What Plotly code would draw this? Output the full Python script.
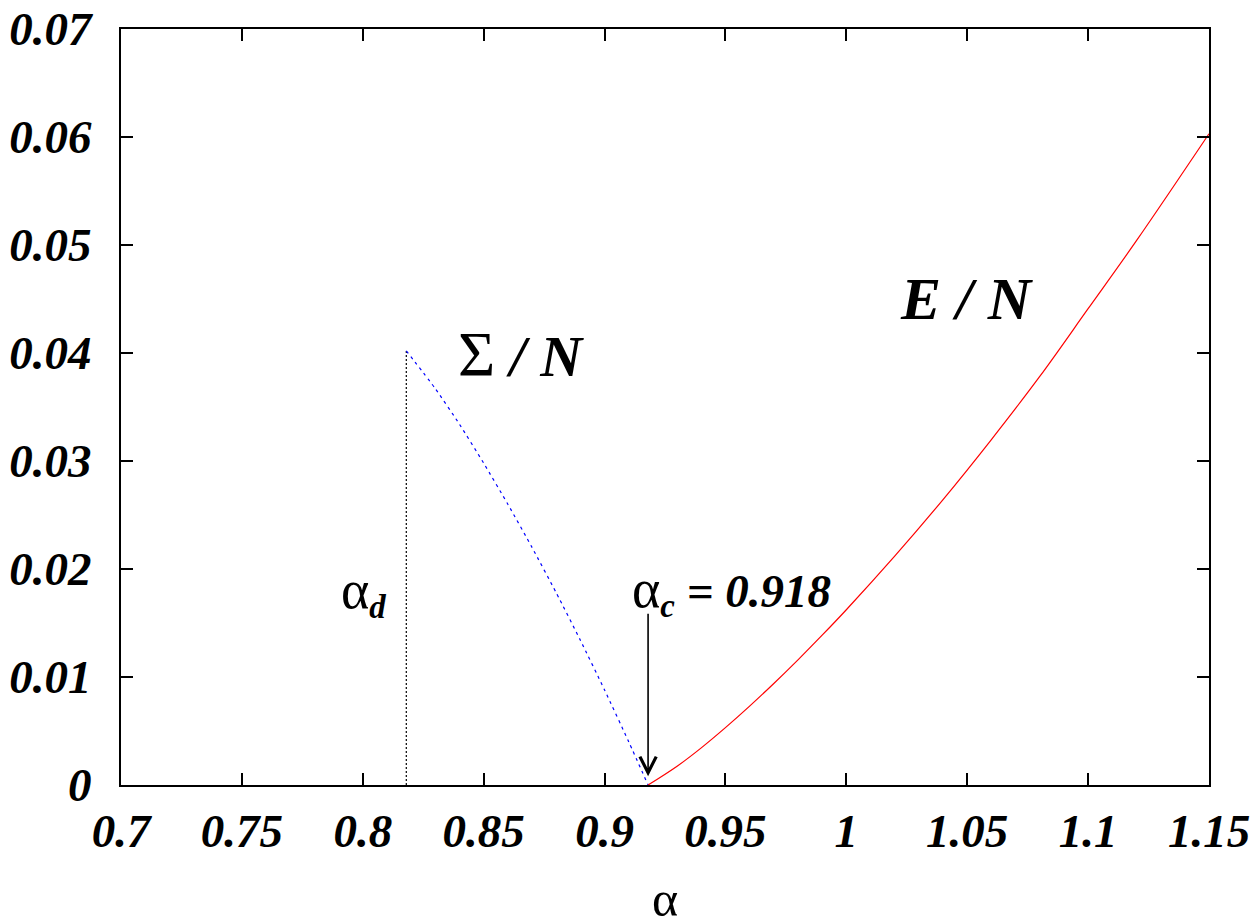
import plotly.graph_objects as go

# ---- data ----
sigma_alpha = [0.818, 0.83, 0.84, 0.85, 0.86, 0.87, 0.88, 0.89, 0.90, 0.91, 0.918]
sigma_vals = [0.0402, 0.0367, 0.0334, 0.0298, 0.0260, 0.0220, 0.0178, 0.0134, 0.0088, 0.0040, 0.0]

energy_alpha = [0.918, 0.93, 0.94, 0.95, 0.96, 0.97, 0.98, 0.99, 1.00, 1.02, 1.04,
                1.06, 1.08, 1.10, 1.12, 1.15]
energy_vals = [0.0, 0.00174, 0.00344, 0.00531, 0.0073, 0.0094, 0.01159, 0.01387,
               0.01623, 0.02119, 0.02643, 0.03199, 0.03783, 0.0441, 0.0504, 0.0603]

alpha_d = 0.818
alpha_d_top = 0.0402
alpha_c = 0.918
arrow_top = 0.0160
arrow_tip = 0.0008

x_ticks = [0.7, 0.75, 0.8, 0.85, 0.9, 0.95, 1.0, 1.05, 1.1, 1.15]
x_tick_labels = ["0.7", "0.75", "0.8", "0.85", "0.9", "0.95", "1", "1.05", "1.1", "1.15"]
y_ticks = [0, 0.01, 0.02, 0.03, 0.04, 0.05, 0.06, 0.07]
y_tick_labels = ["0", "0.01", "0.02", "0.03", "0.04", "0.05", "0.06", "0.07"]

SERIF = "Liberation Serif, Times New Roman, DejaVu Serif, serif"
ALPHA = '<span style="font-size:54px">α</span>'

fig = go.Figure()

# vertical dotted line at alpha_d
fig.add_trace(go.Scatter(
    x=[alpha_d, alpha_d], y=[0, alpha_d_top], mode="lines",
    line=dict(color="black", width=1.2, dash="2px,2px"),
    hoverinfo="skip", showlegend=False))

# Sigma / N (blue dashed)
fig.add_trace(go.Scatter(
    x=sigma_alpha, y=sigma_vals, mode="lines",
    line=dict(color="#0000ff", width=1.2, dash="3px,4px", shape="spline", smoothing=0.6),
    showlegend=False))

# E / N (red solid)
fig.add_trace(go.Scatter(
    x=energy_alpha, y=energy_vals, mode="lines",
    line=dict(color="#ff0000", width=1.2, shape="spline"),
    showlegend=False))

# arrow to alpha_c
fig.add_annotation(
    x=alpha_c, y=arrow_tip, ax=alpha_c, ay=arrow_top,
    xref="x", yref="y", axref="x", ayref="y",
    text="", showarrow=True, arrowhead=5, arrowsize=2.0, arrowwidth=1.6,
    arrowcolor="black")

# labels
fig.add_annotation(
    x=0.8654, y=0.0399, xref="x", yref="y", showarrow=False,
    text='<span style="font-size:64px">Σ</span><b><i> / N</i></b>',
    font=dict(family=SERIF, size=58, color="black"))
fig.add_annotation(
    x=1.0499, y=0.0450, xref="x", yref="y", showarrow=False,
    text="<b><i>E / N</i></b>", font=dict(family=SERIF, size=60, color="black"))
fig.add_annotation(
    x=0.9527, y=0.0179, xref="x", yref="y", showarrow=False,
    text=ALPHA + "<sub><b><i>c</i></b></sub><b><i> = 0.918</i></b>",
    font=dict(family=SERIF, size=47, color="black"))
fig.add_annotation(
    x=0.8001, y=0.0178, xref="x", yref="y", showarrow=False,
    text=ALPHA + "<sub><b><i>d</i></b></sub>",
    font=dict(family=SERIF, size=47, color="black"))
# x-axis title
fig.add_annotation(
    x=0.5, y=-0.151, xref="paper", yref="paper", showarrow=False,
    text="α", yanchor="middle",
    font=dict(family=SERIF, size=50, color="black"))

axis_common = dict(
    showline=True, linecolor="black", linewidth=2,
    mirror="allticks", ticks="inside", ticklen=12, tickwidth=1.5,
    tickcolor="black", showgrid=False, zeroline=False,
    ticklabeloverflow="allow",
    tickfont=dict(family=SERIF, size=47, color="black", weight="bold", style="italic"),
)

fig.update_xaxes(range=[0.7, 1.15], tickvals=x_ticks, ticktext=x_tick_labels,
                 ticklabelstandoff=4, **axis_common)
fig.update_yaxes(range=[0, 0.07], tickvals=y_ticks, ticktext=y_tick_labels,
                 ticklabelstandoff=18, **axis_common)

fig.update_layout(
    width=1250, height=908,
    margin=dict(l=113, r=49, t=21, b=131, autoexpand=False),
    plot_bgcolor="white", paper_bgcolor="white",
    showlegend=False,
)

fig.write_html("out.html")
